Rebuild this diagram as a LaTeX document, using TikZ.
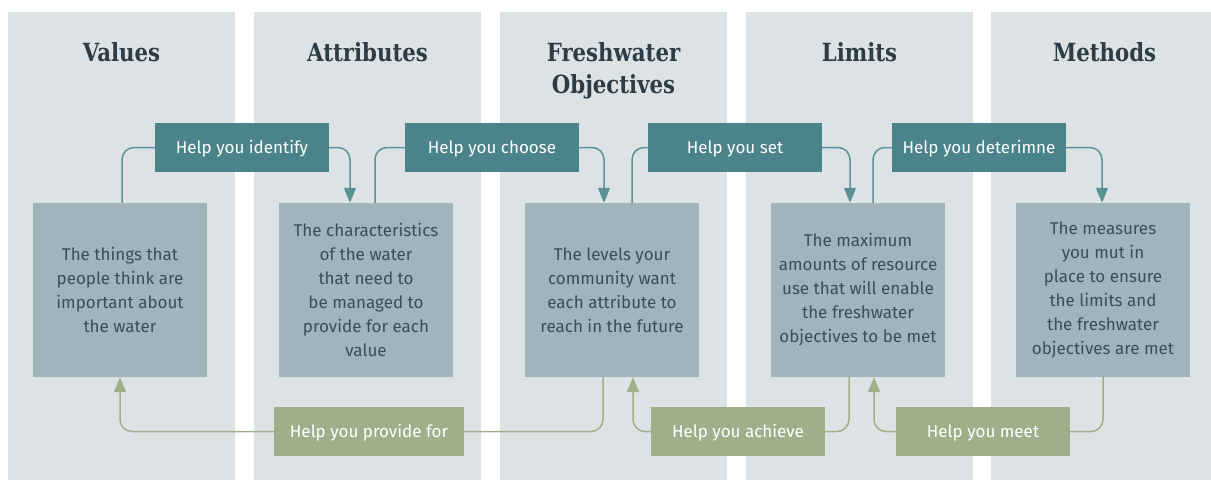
\documentclass[tikz,border=0pt]{standalone}
\usepackage{fontspec}
\setmainfont{Fira Sans}
\newfontfamily\headfont[FakeStretch=0.85]{DejaVu Serif}
\usetikzlibrary{arrows.meta}
\definecolor{colbg}{HTML}{DDE2E5}
\definecolor{boxfill}{HTML}{9FB5BB}
\definecolor{boxtext}{HTML}{3B4D55}
\definecolor{headtext}{HTML}{2C3D47}
\definecolor{tealfill}{HTML}{4A8389}
\definecolor{tealline}{HTML}{5A9298}
\definecolor{greenfill}{HTML}{9DB08A}

\begin{document}
\begin{tikzpicture}[x=1pt,y=-1pt,
  heading/.style={font=\headfont\bfseries\fontsize{25}{32}\selectfont, text=headtext, align=center},
  infobox/.style={fill=boxfill, minimum width=174pt, minimum height=174pt, inner sep=0pt, align=center, text=boxtext, font=\fontsize{17}{24}\selectfont},
  helptop/.style={fill=tealfill, text=white, minimum width=174pt, minimum height=49pt, inner sep=0pt, text height=12pt, text depth=0pt, font=\fontsize{17}{20}\selectfont},
  helpbot/.style={helptop, fill=greenfill},
  topline/.style={draw=tealline, line width=1.5pt, rounded corners=12pt},
  botline/.style={draw=greenfill, line width=1.5pt, rounded corners=12pt},
  headtip/.style={-{Triangle[width=12pt,length=15pt]}}]
\useasboundingbox (0,0) rectangle (1211,480);
\fill[white] (0,0) rectangle (1211,480);
\foreach \x in {8,254,500,746} \fill[colbg] (\x,12) rectangle ++(227,468);
\fill[colbg] (991,12) rectangle (1211,480);

\node[heading] (tval) at (121.5,52) {Values};
\node[heading] (tatt) at (367.5,52) {Attributes};
\node[heading] (tobj) at (613.5,71) {Freshwater\\Objectives};
\node[heading] (tlim) at (859.5,52) {Limits};
\node[heading] (tmet) at (1104.5,52) {Methods};

\node[infobox] (val) at (120,290) {The things that\\people think are\\important about\\the water};
\node[infobox] (att) at (366,290) {The characteristics\\of the water\\that need to\\be managed to\\provide for each\\value};
\node[infobox] (obj) at (612,290) {The levels your\\community want\\each attribute to\\reach in the future};
\node[infobox] (lim) at (858,290) {The maximum\\amounts of resource\\use that will enable\\the freshwater\\objectives to be met};
\node[infobox] (met) at (1103,290) {The measures\\you mut in\\place to ensure\\the limits and\\the freshwater\\objectives are met};

\node[helptop] (ident) at (242,147.5) {Help you identify};
\node[helptop] (choose) at (492,147.5) {Help you choose};
\node[helptop] (setl) at (735,147.5) {Help you set};
\node[helptop] (deter) at (979,147.5) {Help you deterimne};

\node[helpbot, minimum width=190pt] (provide) at (369,431.5) {Help you provide for};
\node[helpbot] (achieve) at (738,431.5) {Help you achieve};
\node[helpbot] (meet) at (983,431.5) {Help you meet};

\draw[topline] ([xshift=2pt]val.north) |- (ident.west);
\draw[topline, headtip] (ident.east) -| ([xshift=-16pt]att.north);
\draw[topline] ([xshift=9pt]att.north) |- (choose.west);
\draw[topline, headtip] (choose.east) -| ([xshift=-8pt]obj.north);
\draw[topline] ([xshift=20pt]obj.north) |- (setl.west);
\draw[topline, headtip] (setl.east) -| ([xshift=-8pt]lim.north);
\draw[topline] ([xshift=15pt]lim.north) |- (deter.west);
\draw[topline, headtip] (deter.east) -| ([xshift=-1pt]met.north);

\draw[botline] ([xshift=-9pt]obj.south) |- (provide.east);
\draw[botline, headtip] (provide.west) -| (val.south);
\draw[botline] ([xshift=-9pt]lim.south) |- (achieve.east);
\draw[botline, headtip] (achieve.west) -| ([xshift=21pt]obj.south);
\draw[botline] (met.south) |- (meet.east);
\draw[botline, headtip] (meet.west) -| ([xshift=16pt]lim.south);
\end{tikzpicture}
\end{document}
